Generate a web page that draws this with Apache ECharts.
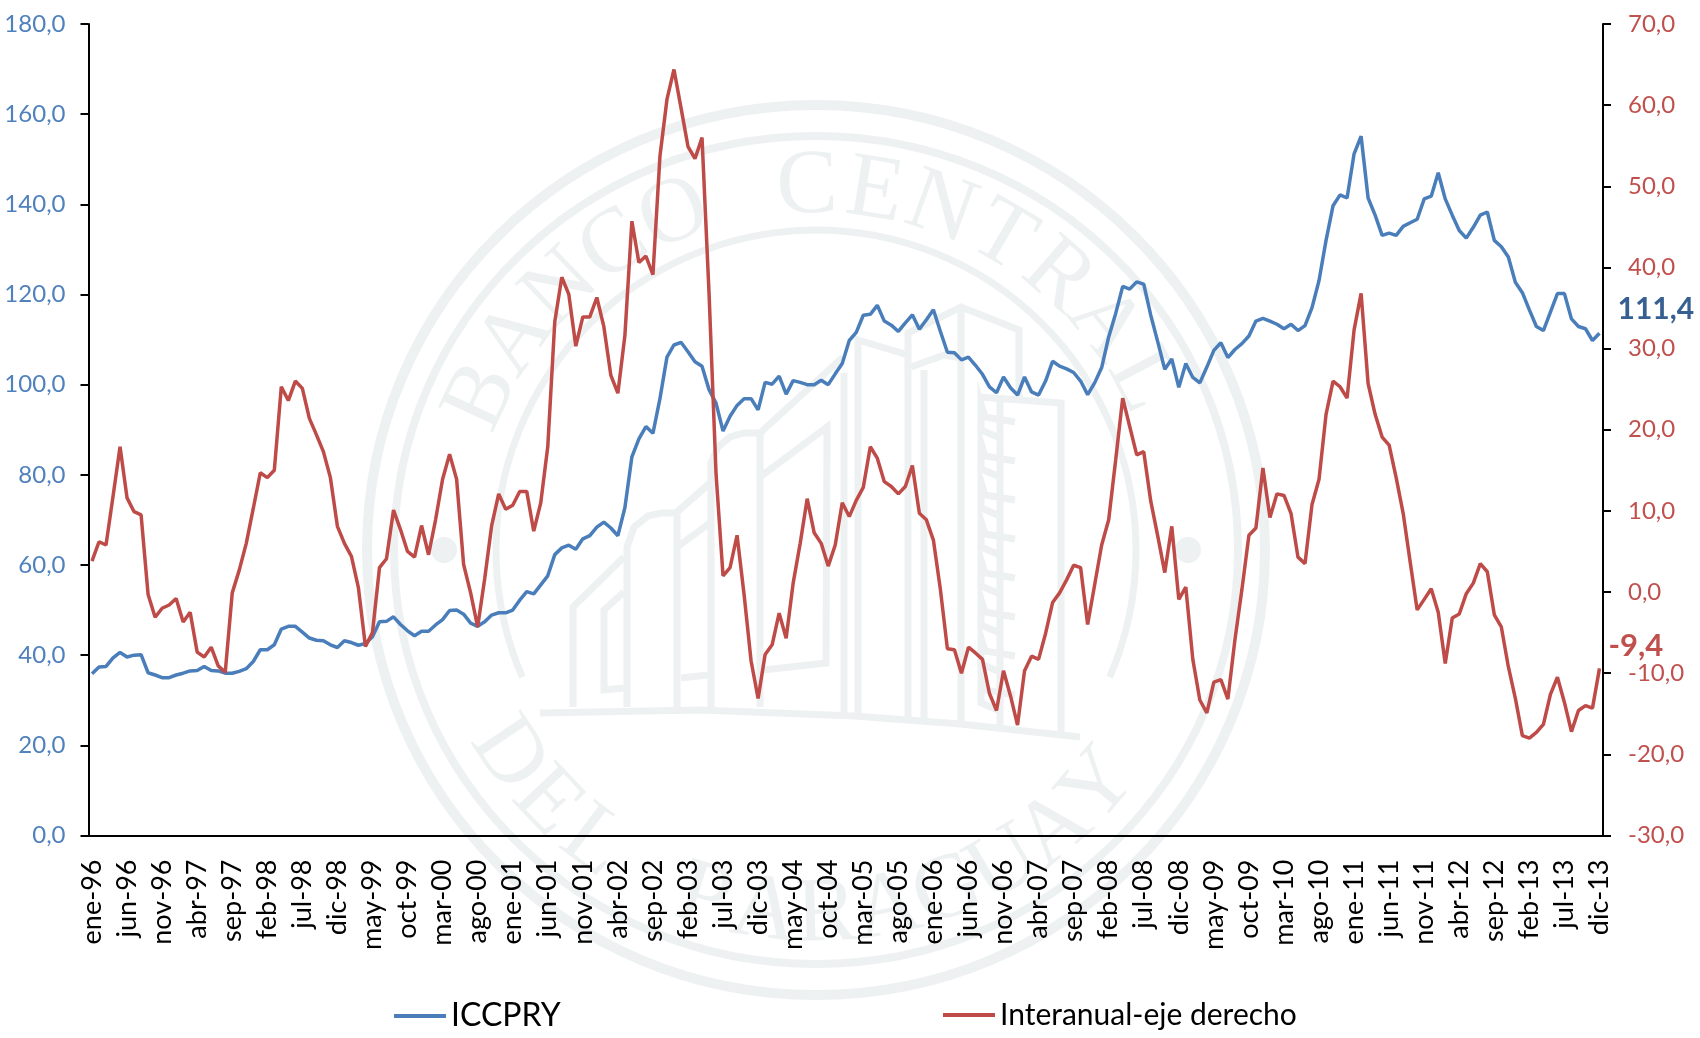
<!DOCTYPE html>
<html>
<head>
<meta charset="utf-8">
<title>ICCPRY</title>
<style>
  html, body { margin: 0; padding: 0; background: #fff; }
  #chart { width: 1700px; height: 1038px; }
</style>
<script src="https://cdn.jsdelivr.net/npm/echarts@6/dist/echarts.min.js"></script>
</head>
<body>
<div id="chart"></div>
<script>
const monthNames = ['ene', 'feb', 'mar', 'abr', 'may', 'jun', 'jul', 'ago', 'sep', 'oct', 'nov', 'dic']
const years = ['96', '97', '98', '99', '00', '01', '02', '03', '04', '05', '06', '07', '08', '09', '10', '11', '12', '13']
const months = years.flatMap(y => monthNames.map(m => m + '-' + y))

const iccpry = [
  35.9, 37.4, 37.5, 39.4, 40.6, 39.6, 40.0, 40.1, 36.1, 35.6, 35.0, 35.0,
  35.6, 36.0, 36.5, 36.6, 37.5, 36.6, 36.5, 36.0, 36.0, 36.4, 37.0, 38.6,
  41.2, 41.2, 42.3, 45.8, 46.4, 46.4, 45.1, 43.8, 43.3, 43.2, 42.3, 41.7,
  43.2, 42.8, 42.2, 42.6, 44.1, 47.4, 47.5, 48.5, 46.8, 45.4, 44.3, 45.3,
  45.3, 46.7, 47.9, 49.9, 50.0, 49.1, 47.1, 46.4, 47.4, 48.9, 49.4, 49.4,
  50.0, 52.2, 54.1, 53.6, 55.6, 57.6, 62.3, 63.8, 64.4, 63.5, 65.8, 66.5,
  68.4, 69.5, 68.2, 66.5, 72.7, 84.0, 88.0, 90.7, 89.2, 96.9, 106.1, 108.8,
  109.4, 107.3, 105.1, 104.1, 98.9, 95.9, 89.7, 93.0, 95.4, 96.9, 96.9, 94.4,
  100.5, 100.1, 101.9, 97.9, 100.9, 100.5, 100.0, 100.0, 101.0, 100.0, 102.4, 104.7,
  109.8, 111.6, 115.4, 115.6, 117.6, 114.1, 113.2, 111.8, 113.7, 115.5, 112.3, 114.4,
  116.6, 111.8, 107.2, 107.1, 105.5, 106.1, 104.3, 102.3, 99.5, 98.2, 101.7, 99.3,
  97.7, 101.7, 98.4, 97.7, 100.8, 105.2, 104.1, 103.5, 102.7, 100.8, 97.8, 100.4,
  103.8, 110.6, 115.8, 121.8, 121.2, 122.8, 122.3, 115.4, 109.5, 103.4, 105.7, 99.4,
  104.7, 101.6, 100.4, 103.9, 107.6, 109.3, 106.0, 107.8, 109.1, 110.8, 114.1, 114.7,
  114.1, 113.4, 112.4, 113.4, 112.0, 113.1, 117.1, 123.1, 132.0, 139.7, 142.1, 141.4,
  151.2, 155.1, 141.4, 137.6, 133.1, 133.6, 133.1, 135.1, 135.9, 136.7, 141.2, 141.8,
  147.0, 141.2, 137.6, 134.2, 132.5, 134.9, 137.6, 138.3, 132.0, 130.6, 128.3, 122.7,
  120.4, 116.6, 112.9, 112.0, 116.1, 120.2, 120.2, 114.6, 112.9, 112.4, 109.8, 111.4
]

const interanual = [
  3.8, 6.2, 5.8, 11.8, 17.9, 11.6, 9.9, 9.5, -0.3, -3.1, -2.0, -1.6,
  -0.8, -3.7, -2.5, -7.4, -8.0, -6.8, -9.1, -9.9, -0.1, 2.7, 6.0, 10.3,
  14.7, 14.1, 15.0, 25.3, 23.6, 26.0, 25.1, 21.4, 19.4, 17.3, 14.1, 8.1,
  6.0, 4.4, 0.5, -6.7, -5.0, 3.0, 4.1, 10.1, 7.7, 5.0, 4.3, 8.2,
  4.6, 8.9, 13.9, 17.0, 13.9, 3.4, -0.1, -4.3, 1.6, 8.2, 12.1, 10.2,
  10.7, 12.4, 12.4, 7.5, 11.0, 17.9, 33.3, 38.8, 36.7, 30.3, 33.9, 33.9,
  36.3, 32.7, 26.7, 24.5, 31.6, 45.7, 40.6, 41.4, 39.1, 53.7, 60.7, 64.4,
  59.7, 54.9, 53.4, 56.0, 36.9, 14.6, 2.0, 3.0, 7.0, -0.3, -8.5, -13.1,
  -7.7, -6.5, -2.6, -5.7, 1.1, 6.0, 11.5, 7.3, 6.0, 3.2, 5.8, 11.0,
  9.3, 11.3, 12.9, 17.9, 16.5, 13.6, 13.0, 12.1, 13.0, 15.6, 9.7, 8.9,
  6.4, 0.3, -7.0, -7.1, -10.0, -6.8, -7.5, -8.3, -12.5, -14.6, -9.7, -12.8,
  -16.4, -9.7, -7.9, -8.3, -5.1, -1.3, -0.1, 1.5, 3.3, 3.0, -4.0, 0.9,
  5.8, 8.9, 16.3, 23.9, 20.4, 16.9, 17.3, 11.2, 6.9, 2.4, 8.1, -0.9,
  0.6, -8.3, -13.3, -14.9, -11.1, -10.8, -13.2, -5.9, 0.3, 7.0, 7.9, 15.3,
  9.2, 12.1, 11.9, 9.7, 4.3, 3.5, 10.8, 13.9, 21.9, 26.0, 25.3, 23.9,
  32.3, 36.8, 25.7, 21.9, 19.1, 18.1, 14.1, 9.7, 3.7, -2.2, -0.9, 0.4,
  -2.5, -8.8, -3.2, -2.7, -0.2, 1.1, 3.5, 2.5, -2.8, -4.3, -9.2, -13.1,
  -17.7, -18.0, -17.3, -16.3, -12.6, -10.5, -13.6, -17.2, -14.6, -14.0, -14.3, -9.4
]

const blue = '#4A7EBB'
const red = '#BE4B48'
const sealColor = '#EEF1F2'
const font = 'Lato'

const fmt = v => v.toFixed(1).replace('.', ',')

// marca de agua del banco, detras de las series
function sealElements() {
  const cx = 816
  const cy = 550
  const els = []
  const stroke = w => ({ fill: 'none', stroke: sealColor, lineWidth: w })
  const poly = pts => els.push({
    type: 'polyline', z: -10, silent: true,
    shape: { points: pts }, style: stroke(7)
  })
  const letter = (ch, px, py, rot) => els.push({
    type: 'text', z: -10, silent: true, x: px, y: py, rotation: rot,
    style: {
      text: ch, fill: sealColor, font: '92px "Liberation Serif"',
      align: 'center', verticalAlign: 'middle'
    }
  })

  ;[[449, 445, 10], [422, 414, 8]].forEach(([rx, ry, w]) => els.push({
    type: 'ellipse', z: -10, silent: true, shape: { cx, cy, rx, ry }, style: stroke(w)
  }))
  els.push({
    type: 'arc', z: -10, silent: true,
    shape: { cx, cy, r: 320, startAngle: Math.PI * 0.87, endAngle: Math.PI * 0.13, clockwise: true },
    style: stroke(7)
  })
  ;[[-372, 0], [372, 0]].forEach(([dx, dy]) => els.push({
    type: 'circle', z: -10, silent: true,
    shape: { cx: cx + dx, cy: cy + dy, r: 13 }, style: { fill: sealColor }
  }))

  Array.from('BANCO CENTRAL').forEach((ch, i) => {
    const a = (-65 + i * 10.6) * Math.PI / 180
    letter(ch, cx + 368 * Math.sin(a), cy - 362 * Math.cos(a), -a)
  })
  Array.from('DEL PARAGUAY').forEach((ch, i) => {
    const a = (-56 + i * 9.6) * Math.PI / 180
    letter(ch, cx + 372 * Math.sin(a), cy + 366 * Math.cos(a), a)
  })

  // edificio
  poly([[540, 713], [700, 710], [854, 716], [960, 724], [1080, 737]])
  poly([[573, 707], [573, 607], [624, 557]])
  poly([[624, 592], [604, 610], [604, 690], [624, 688]])
  poly([[627, 707], [627, 547], [634, 527], [648, 516], [661, 513], [677, 513], [677, 707]])
  poly([[677, 512], [710, 483]])
  poly([[677, 547], [710, 523]])
  poly([[681, 678], [708, 675]])
  poly([[711, 707], [711, 463], [718, 447], [730, 437], [744, 433], [760, 433], [760, 707]])
  poly([[760, 433], [843, 357]])
  poly([[760, 477], [827, 427], [826, 663], [763, 670]])
  poly([[844, 716], [844, 373]])
  poly([[858, 717], [858, 340], [908, 355]])
  poly([[908, 720], [908, 333], [961, 307], [1019, 330], [1019, 400]])
  poly([[911, 367], [944, 355], [961, 358]])
  poly([[924, 722], [924, 370]])
  poly([[961, 726], [961, 307]])
  poly([[979, 397], [1061, 403], [1061, 737]])
  poly([[1000, 400], [1000, 730]])
  for (let k = 0; k < 8; k++) {
    const y = 400 + k * 39
    poly([[1015, y + 22], [985, y + 17], [981, y + 4], [981, y + 30], [1000, y + 38]])
  }
  return els
}

const chart = echarts.init(document.getElementById('chart'))
chart.setOption({
  animation: false,
  backgroundColor: '#fff',
  textStyle: { fontFamily: font },
  color: [blue, red],
  grid: { left: 88.5, right: 97, top: 24, bottom: 202.5 },
  graphic: { elements: sealElements() },
  legend: [
    {
      data: ['ICCPRY'], left: 389, top: 995,
      icon: 'rect', itemWidth: 52, itemHeight: 4,
      textStyle: { color: '#000', fontSize: 32, fontFamily: font }
    },
    {
      data: ['Interanual-eje derecho'], left: 938, top: 995,
      icon: 'rect', itemWidth: 52, itemHeight: 4,
      textStyle: { color: '#000', fontSize: 30, fontFamily: font }
    }
  ],
  xAxis: {
    type: 'category',
    data: months,
    boundaryGap: true,
    axisLine: { onZero: false, lineStyle: { color: '#000', width: 2 } },
    axisTick: { interval: 4, length: 8, lineStyle: { color: '#000', width: 2 } },
    axisLabel: {
      interval: 4, rotate: 90, margin: 24, color: '#000', fontSize: 27, fontFamily: font,
      padding: [10, 0, 0, 0]
    }
  },
  yAxis: [
    {
      type: 'value', min: 0, max: 180, interval: 20, position: 'left',
      splitLine: { show: false },
      axisLine: { show: true, lineStyle: { color: '#000', width: 2 } },
      axisTick: { show: true, length: 8, lineStyle: { color: '#000', width: 2 } },
      axisLabel: { formatter: fmt, color: '#4F81BD', fontSize: 24, margin: 23, fontFamily: font }
    },
    {
      type: 'value', min: -30, max: 70, interval: 10, position: 'right',
      splitLine: { show: false },
      axisLine: { show: true, lineStyle: { color: '#000', width: 2 } },
      axisTick: { show: true, length: 8, lineStyle: { color: '#000', width: 2 } },
      axisLabel: { formatter: fmt, color: '#C0504D', fontSize: 24, margin: 25, fontFamily: font }
    }
  ],
  series: [
    {
      name: 'ICCPRY', type: 'line', yAxisIndex: 0, data: iccpry,
      showSymbol: false, symbol: 'none', lineStyle: { width: 3.5, color: blue },
      endLabel: {
        show: true, formatter: p => fmt(p.value), offset: [10, -24],
        color: '#376092', fontSize: 30, fontWeight: 'bold', fontFamily: font
      }
    },
    {
      name: 'Interanual-eje derecho', type: 'line', yAxisIndex: 1, data: interanual,
      showSymbol: false, symbol: 'none', lineStyle: { width: 3.5, color: red },
      endLabel: {
        show: true, formatter: p => fmt(p.value), offset: [1, -22],
        color: '#C0504D', fontSize: 31, fontWeight: 'bold', fontFamily: font
      }
    }
  ]
})
</script>
</body>
</html>
